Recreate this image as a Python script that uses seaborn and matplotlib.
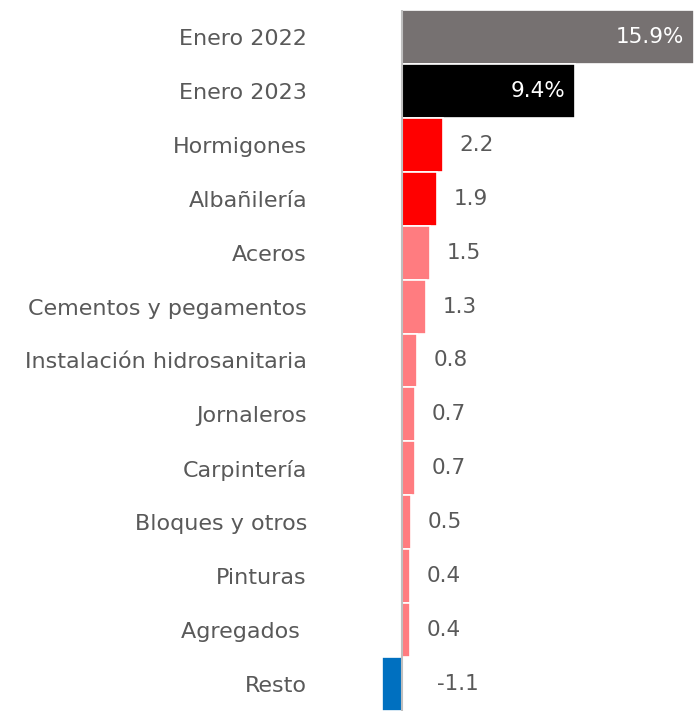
import matplotlib
matplotlib.use("Agg")
import matplotlib.pyplot as plt
import seaborn as sns
import pandas as pd

categories = ["Enero 2022", "Enero 2023", "Hormigones", "Albañilería", "Aceros",
              "Cementos y pegamentos", "Instalación hidrosanitaria", "Jornaleros",
              "Carpintería", "Bloques y otros", "Pinturas", "Agregados ", "Resto"]
values = [15.9, 9.4, 2.2, 1.9, 1.5, 1.3, 0.8, 0.7, 0.7, 0.5, 0.4, 0.4, -1.1]
labels = ["15.9%", "9.4%", "2.2", "1.9", "1.5", "1.3", "0.8", "0.7", "0.7", "0.5", "0.4", "0.4", "-1.1"]
colors = ["#767171", "#000000", "#FF0000", "#FF0000", "#FF7C80", "#FF7C80", "#FF7C80",
          "#FF7C80", "#FF7C80", "#FF7C80", "#FF7C80", "#FF7C80", "#0070C0"]

sns.set_theme(style="white")
plt.rcParams["font.family"] = ["DejaVu Sans"]

df = pd.DataFrame({"cat": categories, "val": values})

fig = plt.figure(figsize=(6.94, 7.11), dpi=100)
ax = fig.add_axes([382 / 694, 0.0, 1 - 382 / 694, 1 - 10 / 711])

sns.barplot(data=df, x="val", y="cat", hue="cat", palette=colors, legend=False,
            width=1.0, edgecolor="white", linewidth=1.2, saturation=1, ax=ax)

ax.set_xlim(-1.1, 15.9)
ax.set_ylim(12.5, -0.5)
ax.axvline(0, color="#BFBFBF", lw=1.5, zorder=5)

for s in ax.spines.values():
    s.set_visible(False)
ax.set_xticks([])
ax.set_xlabel("")
ax.set_ylabel("")
ax.tick_params(axis="y", length=0, pad=54, labelsize=16, labelcolor="#595959")

fs = 15.5
for i, (v, lab) in enumerate(zip(values, labels)):
    if i < 2:
        ax.annotate(lab, (v, i), xytext=(-7, 0), textcoords="offset points",
                    ha="right", va="center", color="white", fontsize=fs)
    elif v >= 0:
        ax.annotate(lab, (v, i), xytext=(12, 0), textcoords="offset points",
                    ha="left", va="center", color="#595959", fontsize=fs)
    else:
        ax.annotate(lab, (0, i), xytext=(25, 0), textcoords="offset points",
                    ha="left", va="center", color="#595959", fontsize=fs)

fig.savefig("out.png", dpi=100)
